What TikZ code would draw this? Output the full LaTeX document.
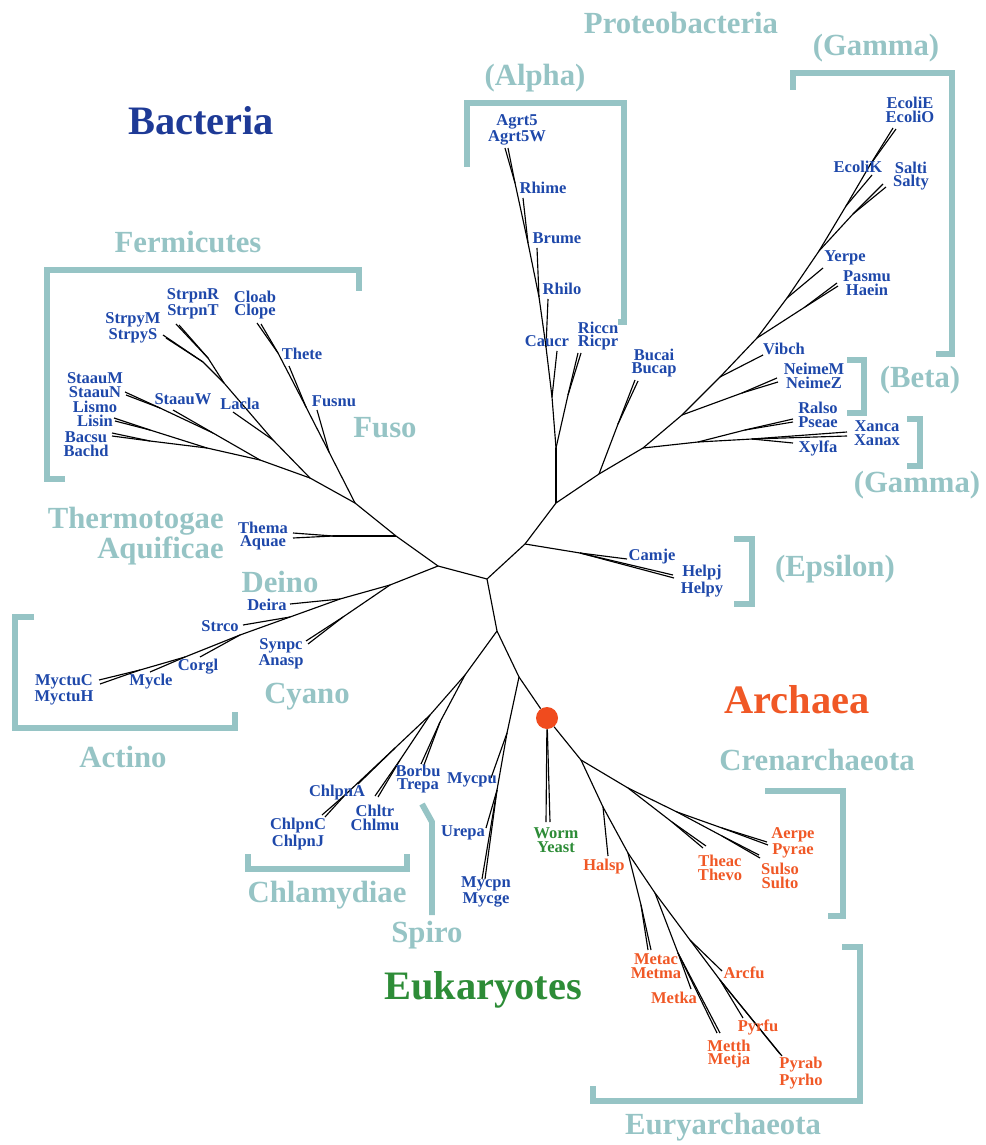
\documentclass[tikz,border=0pt]{standalone}
\usepackage{fontspec}
\setmainfont{Liberation Serif}
\usepackage{xcolor}
\definecolor{bactcolor}{RGB}{30, 58, 150}
\definecolor{taxcolor}{RGB}{30, 72, 170}
\definecolor{archcolor}{RGB}{240, 88, 38}
\definecolor{eukcolor}{RGB}{45, 140, 55}
\definecolor{groupcolor}{RGB}{150, 196, 197}
\definecolor{rootcolor}{RGB}{240, 75, 30}

\begin{document}
\begin{tikzpicture}[x=0.02cm, y=-0.02cm,
    branch/.style={draw=black, line width=0.65pt},
    taxon/.style={font=\fontsize{9.4}{7.9}\selectfont\bfseries, text=#1, align=center, inner sep=0pt},
    taxon/.default=taxcolor,
    group/.style={font=\fontsize{17.5}{16}\selectfont\bfseries, text=groupcolor, inner sep=0pt},
    kingdom/.style={font=\fontsize{23}{23}\selectfont\bfseries, text=#1, inner sep=0pt},
    bracket/.style={draw=groupcolor, line width=3.4pt},
    rootdot/.style={circle, fill=rootcolor, inner sep=0pt, minimum size=0.44cm}
]
\useasboundingbox (0,0) rectangle (986,1145);

% Centre of the tree
\coordinate (c0) at (487,579); \coordinate (cL) at (438,566);
\coordinate (cD) at (497,631); \coordinate (cR) at (525,544);
\coordinate (pA) at (556,503);

% Thermotogae, Fuso, Fermicutes
\coordinate (nTh) at (396,536); \coordinate (th1) at (333,536);
\coordinate (tThema) at (293,533); \coordinate (tAquae) at (293,538);
\coordinate (nF) at (355,503);
\coordinate (fu1) at (329,452); \coordinate (tFusnu) at (317,410);
\coordinate (fu2) at (306,407); \coordinate (tThete) at (289,366);
\coordinate (fu3) at (278,353); \coordinate (tCloab) at (257,323); \coordinate (tClope) at (261,324);
\coordinate (fe0) at (310,478);
\coordinate (fe1) at (273,440); \coordinate (tLacla) at (233,412);
\coordinate (fe2) at (224,383);
\coordinate (py0) at (203,362); \coordinate (tStrpyM) at (163,335); \coordinate (tStrpyS) at (166,338);
\coordinate (pn0) at (208,358); \coordinate (tStrpnR) at (176,324); \coordinate (tStrpnT) at (179,325);
\coordinate (fe4) at (260,460);
\coordinate (fe5) at (213,433); \coordinate (tStaauW) at (173,410);
\coordinate (sa0) at (160,408); \coordinate (tStaauM) at (125,392); \coordinate (tStaauN) at (126,395);
\coordinate (fe6) at (207,448);
\coordinate (li0) at (150,430); \coordinate (tLismo) at (114,418); \coordinate (tLisin) at (115,421);
\coordinate (ba0) at (150,441); \coordinate (tBacsu) at (112,433); \coordinate (tBachd) at (112,436);

% Deino, Cyano, Actino
\coordinate (nC) at (390,585);
\coordinate (cy1) at (343,617); \coordinate (tSynpc) at (306,641); \coordinate (tAnasp) at (308,644);
\coordinate (nD) at (340,599); \coordinate (tDeira) at (290,604);
\coordinate (nS) at (290,617); \coordinate (tStrco) at (243,625);
\coordinate (nCo) at (240,635); \coordinate (tCorgl) at (200,657);
\coordinate (nMy) at (185,657); \coordinate (tMycle) at (150,672);
\coordinate (mt0) at (140,670); \coordinate (tMyctuC) at (99,680); \coordinate (tMyctuH) at (100,684);

% Chlamydiae, Spiro, Mycoplasma
\coordinate (ns1) at (465,675);
\coordinate (bt0) at (440,722); \coordinate (tBorbu) at (421,764); \coordinate (tTrepa) at (424,765);
\coordinate (ch0) at (430,715);
\coordinate (ct0) at (400,760); \coordinate (tChltr) at (375,796); \coordinate (tChlmu) at (378,797);
\coordinate (ch1) at (395,748); \coordinate (tChlpnA) at (358,784);
\coordinate (pc0) at (345,795); \coordinate (tChlpnC) at (322,815); \coordinate (tChlpnJ) at (325,817);
\coordinate (nM) at (519,677);
\coordinate (my1) at (507,733); \coordinate (tMycpu) at (491,778);
\coordinate (my2) at (497,790); \coordinate (tUrepa) at (486,828);
\coordinate (tMycpn) at (482,879); \coordinate (tMycge) at (485,879);

% Eukaryotes and Archaea
\coordinate (tWorm) at (546,822); \coordinate (tYeast) at (550,822);
\coordinate (ar0) at (581,760);
\coordinate (cr0) at (628,788);
\coordinate (tv0) at (672,822); \coordinate (tTheac) at (703,848); \coordinate (tThevo) at (706,846);
\coordinate (cr1) at (677,812);
\coordinate (su0) at (722,836); \coordinate (tSulso) at (759,855); \coordinate (tSulto) at (760,858);
\coordinate (ae0) at (722,828); \coordinate (tAerpe) at (767,842); \coordinate (tPyrae) at (768,845);
\coordinate (eu1) at (603,807); \coordinate (tHalsp) at (608,856);
\coordinate (eu2) at (628,853);
\coordinate (mm0) at (641,905); \coordinate (tMetac) at (648,950); \coordinate (tMetma) at (651,950);
\coordinate (eu3) at (655,893);
\coordinate (mk0) at (678,953); \coordinate (tMetka) at (691,989);
\coordinate (tMetth) at (717,1033); \coordinate (tMetja) at (720,1033);
\coordinate (eu5) at (690,940); \coordinate (tArcfu) at (722,971);
\coordinate (eu6) at (720,980); \coordinate (tPyrfu) at (743,1018);
\coordinate (tPyrab) at (780,1054); \coordinate (tPyrho) at (782,1056);

% Epsilon
\coordinate (ep1) at (580,553); \coordinate (tCamje) at (627,559);
\coordinate (tHelpj) at (673,575); \coordinate (tHelpy) at (674,578);

% Alpha
\coordinate (al1) at (556,448);
\coordinate (rc0) at (568,395); \coordinate (tRiccn) at (578,353); \coordinate (tRicpr) at (581,353);
\coordinate (al2) at (552,397); \coordinate (tCaucr) at (557,351);
\coordinate (al3) at (546,347); \coordinate (tRhilo) at (548,299);
\coordinate (al4) at (539,297); \coordinate (tBrume) at (537,248);
\coordinate (al5) at (528,243); \coordinate (tRhime) at (523,198);
\coordinate (ag0) at (515,183); \coordinate (tAgrt5) at (505,148); \coordinate (tAgrt5W) at (508,148);

% Gamma, Beta
\coordinate (gb1) at (599,474);
\coordinate (bc0) at (618,424); \coordinate (tBucai) at (635,380); \coordinate (tBucap) at (638,381);
\coordinate (gb2) at (643,448);
\coordinate (x1) at (698,442);
\coordinate (rp0) at (745,430); \coordinate (tRalso) at (793,419); \coordinate (tPseae) at (793,422);
\coordinate (x2) at (752,439); \coordinate (tXylfa) at (793,443);
\coordinate (tXanca) at (847,432); \coordinate (tXanax) at (847,436);
\coordinate (gb3) at (682,415);
\coordinate (nm0) at (742,393); \coordinate (tNeimeM) at (777,378); \coordinate (tNeimeZ) at (778,382);
\coordinate (gb4) at (720,377); \coordinate (tVibch) at (763,355);
\coordinate (gb5) at (757,338);
\coordinate (ph0) at (805,307); \coordinate (tPasmu) at (837,283); \coordinate (tHaein) at (838,286);
\coordinate (gb6) at (787,298); \coordinate (tYerpe) at (823,268);
\coordinate (gb7) at (819,251);
\coordinate (sa1) at (853,214); \coordinate (tSalti) at (883,184); \coordinate (tSalty) at (886,187);
\coordinate (gb8) at (846,206); \coordinate (tEcoliK) at (872,175);
\coordinate (ec0) at (870,165); \coordinate (tEcoliE) at (893,128); \coordinate (tEcoliO) at (896,129);

% Root of the eukaryotes
\node[rootdot] (euk) at (547,718) {};

% Branches
\foreach \a/\b in {c0/cL, c0/cD, c0/cR, cR/pA,
    cL/nTh, nTh/nF, nTh/th1, th1/tThema, th1/tAquae,
    nF/fu1, fu1/tFusnu, fu1/fu2, fu2/tThete, fu2/fu3, fu3/tCloab, fu3/tClope,
    nF/fe0, fe0/fe1, fe1/tLacla, fe1/fe2, fe2/py0, py0/tStrpyM, py0/tStrpyS,
    fe2/pn0, pn0/tStrpnR, pn0/tStrpnT,
    fe0/fe4, fe4/fe5, fe5/tStaauW, fe5/sa0, sa0/tStaauM, sa0/tStaauN,
    fe4/fe6, fe6/li0, li0/tLismo, li0/tLisin, fe6/ba0, ba0/tBacsu, ba0/tBachd,
    cL/nC, nC/cy1, cy1/tSynpc, cy1/tAnasp, nC/nD, nD/tDeira, nD/nS, nS/tStrco,
    nS/nCo, nCo/tCorgl, nCo/nMy, nMy/tMycle, nMy/mt0, mt0/tMyctuC, mt0/tMyctuH,
    cD/ns1, ns1/bt0, bt0/tBorbu, bt0/tTrepa, ns1/ch0, ch0/ct0, ct0/tChltr, ct0/tChlmu,
    ch0/ch1, ch1/tChlpnA, ch1/pc0, pc0/tChlpnC, pc0/tChlpnJ,
    cD/nM, nM/my1, my1/tMycpu, my1/my2, my2/tUrepa, my2/tMycpn, my2/tMycge,
    nM/euk, euk/tWorm, euk/tYeast, euk/ar0,
    ar0/cr0, cr0/tv0, tv0/tTheac, tv0/tThevo, cr0/cr1, cr1/su0, su0/tSulso, su0/tSulto,
    cr1/ae0, ae0/tAerpe, ae0/tPyrae,
    ar0/eu1, eu1/tHalsp, eu1/eu2, eu2/mm0, mm0/tMetac, mm0/tMetma, eu2/eu3,
    eu3/mk0, mk0/tMetka, mk0/tMetth, mk0/tMetja, eu3/eu5, eu5/tArcfu, eu5/eu6,
    eu6/tPyrfu, eu6/tPyrab, eu6/tPyrho,
    cR/ep1, ep1/tCamje, ep1/tHelpj, ep1/tHelpy,
    pA/al1, al1/rc0, rc0/tRiccn, rc0/tRicpr, al1/al2, al2/tCaucr, al2/al3, al3/tRhilo,
    al3/al4, al4/tBrume, al4/al5, al5/tRhime, al5/ag0, ag0/tAgrt5, ag0/tAgrt5W,
    pA/gb1, gb1/bc0, bc0/tBucai, bc0/tBucap, gb1/gb2, gb2/x1, x1/rp0, rp0/tRalso, rp0/tPseae,
    x1/x2, x2/tXylfa, x2/tXanca, x2/tXanax,
    gb2/gb3, gb3/nm0, nm0/tNeimeM, nm0/tNeimeZ, gb3/gb4, gb4/tVibch, gb4/gb5,
    gb5/ph0, ph0/tPasmu, ph0/tHaein, gb5/gb6, gb6/tYerpe, gb6/gb7,
    gb7/sa1, sa1/tSalti, sa1/tSalty, gb7/gb8, gb8/tEcoliK, gb8/ec0, ec0/tEcoliE, ec0/tEcoliO}
    \draw[branch] (\a) -- (\b);

% Bacteria labels
\node[taxon] (lStrpn) at (193,304) {StrpnR\\StrpnT};
\node[taxon] (lClo) at (255,305) {Cloab\\Clope};
\node[taxon] (lStrpy) at (133,328) {StrpyM\\StrpyS};
\node[taxon] (lThete) at (302,354) {Thete};
\node[taxon] (lStaau) at (95,385) {StaauM\\StaauN};
\node[taxon] (lStaauW) at (183,399) {StaauW};
\node[taxon] (lLacla) at (240,404) {Lacla};
\node[taxon] (lFusnu) at (334,401) {Fusnu};
\node[taxon] (lLis) at (95,414) {Lismo\\Lisin};
\node[taxon] (lBac) at (86,444) {Bacsu\\Bachd};
\node[taxon] (lThema) at (263,536) {Thema\\Aquae};
\node[taxon] (lDeira) at (267,605) {Deira};
\node[taxon] (lStrco) at (220,626) {Strco};
\node[taxon] (lSynpc) at (281,654) {Synpc\\Anasp};
\node[taxon] (lCorgl) at (198,667) {Corgl};
\node[taxon] (lMycle) at (151,682) {Mycle};
\node[taxon] (lMyctu) at (64,690) {MyctuC\\MyctuH};
\node[taxon] (lChlpnA) at (337,793) {ChlpnA};
\node[taxon] (lChlpnC) at (298,834) {ChlpnC\\ChlpnJ};
\node[taxon] (lChltr) at (375,818) {Chltr\\Chlmu};
\node[taxon] (lBorbu) at (418,779) {Borbu\\Trepa};
\node[taxon] (lMycpu) at (472,780) {Mycpu};
\node[taxon] (lUrepa) at (463,833) {Urepa};
\node[taxon] (lMycpn) at (486,892) {Mycpn\\Mycge};
\node[taxon] (lAgrt) at (517,130) {Agrt5\\Agrt5W};
\node[taxon] (lRhime) at (543,188) {Rhime};
\node[taxon] (lBrume) at (557,238) {Brume};
\node[taxon] (lRhilo) at (562,289) {Rhilo};
\node[taxon] (lCaucr) at (547,341) {Caucr};
\node[taxon] (lRiccn) at (598,336) {Riccn\\Ricpr};
\node[taxon] (lBucai) at (654,363) {Bucai\\Bucap};
\node[taxon] (lEcoliE) at (910,110) {EcoliE\\EcoliO};
\node[taxon] (lEcoliK) at (858,167) {EcoliK};
\node[taxon] (lSalti) at (911,176) {Salti\\Salty};
\node[taxon] (lYerpe) at (845,258) {Yerpe};
\node[taxon] (lPasmu) at (867,283) {Pasmu\\Haein};
\node[taxon] (lVibch) at (784,349) {Vibch};
\node[taxon] (lNeime) at (814,376) {NeimeM\\NeimeZ};
\node[taxon] (lRalso) at (818,415) {Ralso\\Pseae};
\node[taxon] (lXanca) at (877,433) {Xanca\\Xanax};
\node[taxon] (lXylfa) at (818,448) {Xylfa};
\node[taxon] (lCamje) at (652,557) {Camje};
\node[taxon] (lHelp) at (702,581) {Helpj\\Helpy};

% Eukaryote and Archaea labels
\node[taxon=eukcolor] (lWorm) at (556,840) {Worm\\Yeast};
\node[taxon=archcolor] (lHalsp) at (604,867) {Halsp};
\node[taxon=archcolor] (lTheac) at (720,868) {Theac\\Thevo};
\node[taxon=archcolor] (lAerpe) at (793,843) {Aerpe\\Pyrae};
\node[taxon=archcolor] (lSulso) at (780,876) {Sulso\\Sulto};
\node[taxon=archcolor] (lMetac) at (656,966) {Metac\\Metma};
\node[taxon=archcolor] (lArcfu) at (744,973) {Arcfu};
\node[taxon=archcolor] (lMetka) at (674,998) {Metka};
\node[taxon=archcolor] (lPyrfu) at (758,1027) {Pyrfu};
\node[taxon=archcolor] (lMetth) at (729,1054) {Metth\\Metja};
\node[taxon=archcolor] (lPyrab) at (801,1073) {Pyrab\\Pyrho};

% Group names
\node[group] (gProteo) at (681,23) {Proteobacteria};
\node[group] (gGammaT) at (876,48) {(Gamma)};
\node[group] (gAlpha) at (535,78) {(Alpha)};
\node[group] (gFermi) at (188,242) {Fermicutes};
\node[group] (gFuso) at (385,428) {Fuso};
\node[group, align=right, anchor=east] (gThermo) at (224,536) {Thermotogae\\Aquificae};
\node[group] (gDeino) at (280,582) {Deino};
\node[group] (gCyano) at (307,697) {Cyano};
\node[group] (gActino) at (123,757) {Actino};
\node[group] (gBeta) at (920,380) {(Beta)};
\node[group] (gGammaB) at (917,485) {(Gamma)};
\node[group] (gEpsilon) at (835,569) {(Epsilon)};
\node[group] (gChlam) at (327,895) {Chlamydiae};
\node[group] (gSpiro) at (427,935) {Spiro};
\node[group] (gCren) at (817,760) {Crenarchaeota};
\node[group] (gEury) at (723,1127) {Euryarchaeota};

% Kingdoms
\node[kingdom=bactcolor] (kBact) at (201,121) {Bacteria};
\node[kingdom=archcolor] (kArch) at (797,700) {Archaea};
\node[kingdom=eukcolor] (kEuk) at (483,990) {Eukaryotes};

% Brackets
\draw[bracket] (65,479) -- (47,479) -- (47,270) -- (359,270) -- (359,291);
\draw[bracket] (34,617) -- (15,617) -- (15,728) -- (235,728) -- (235,712);
\draw[bracket] (467,167) -- (467,103) -- (624,103) -- (624,322) -- (618,322);
\draw[bracket] (793,90) -- (793,73) -- (952,73) -- (952,354) -- (936,354);
\draw[bracket] (847,360) -- (864,360) -- (864,413) -- (847,413);
\draw[bracket] (907,419) -- (920,419) -- (920,466) -- (907,466);
\draw[bracket] (734,539) -- (752,539) -- (752,604) -- (734,604);
\draw[bracket] (248,854) -- (248,869) -- (407,869) -- (407,854);
\draw[bracket] (422,804) -- (432,822) -- (432,915);
\draw[bracket] (765,791) -- (843,791) -- (843,916) -- (828,916);
\draw[bracket] (842,947) -- (860,947) -- (860,1101) -- (593,1101) -- (593,1086);

\end{tikzpicture}
\end{document}
